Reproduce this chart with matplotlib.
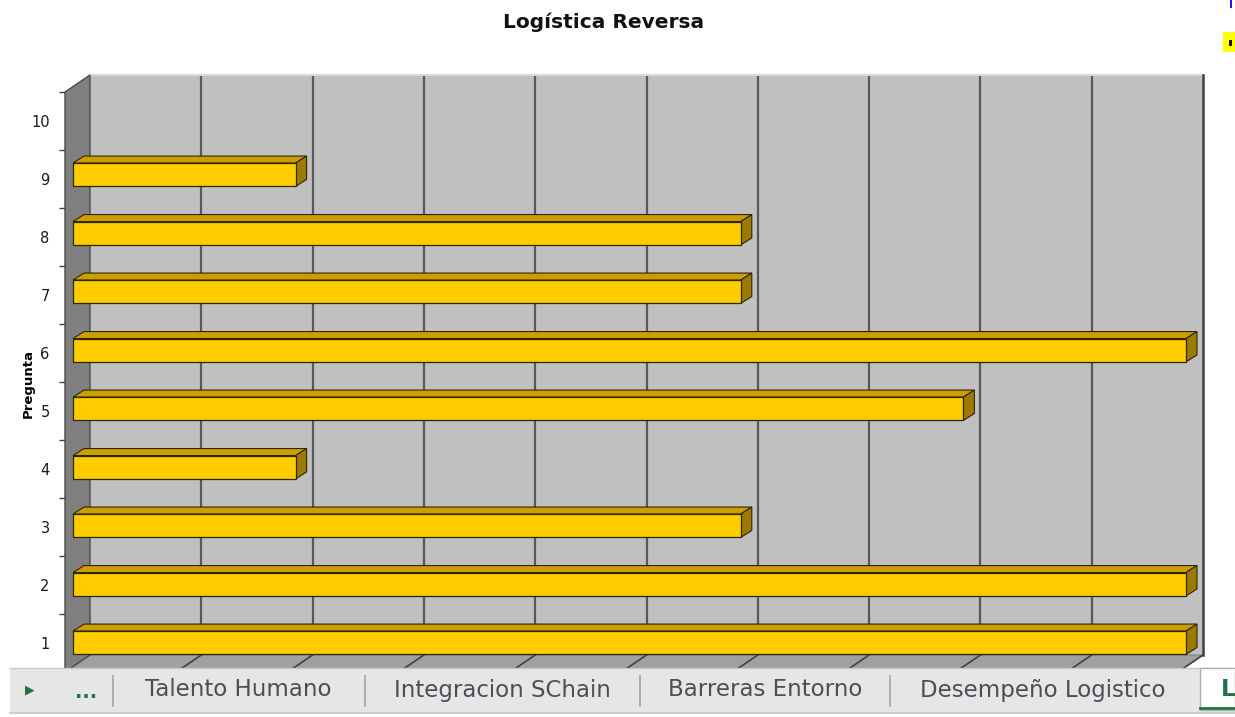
import numpy as np
import matplotlib.pyplot as plt
import matplotlib.transforms as mtransforms
from matplotlib.patches import Polygon, Rectangle

# datos
preguntas = [1, 2, 3, 4, 5, 6, 7, 8, 9, 10]
valores = [5, 5, 3, 1, 4, 5, 3, 3, 1, 0]
x_max = 5
x_grid = np.arange(0.5, x_max + 0.01, 0.5)
titulo = "Logística Reversa"
eje_y = "Pregunta"
hojas = ["Talento Humano", "Integracion SChain", "Barreras Entorno", "Desempeño Logistico"]
hojas_x = [238, 502, 765, 1043]
separadores_x = [113, 365, 640, 890]

W, H = 1235, 717
WALL = (25, 17)      # desplazamiento de la pared del fondo (px)
BAR_OFF = (8, 0)     # posicion de la cara frontal de las barras
BAR_DEPTH = (11, 7)  # profundidad de las barras

fig = plt.figure(figsize=(W / 100, H / 100), dpi=100)
ax = fig.add_axes([65 / W, 45 / H, 1113 / W, 580 / H])
# eje auxiliar para las barras (un poco mas alto por la perspectiva)
axb = fig.add_axes([65 / W, 45 / H, 1113 / W, 585 / H], zorder=1)
for a in (ax, axb):
    a.set_xlim(0, x_max)
    a.set_ylim(0.5, 10.5)
    a.set_facecolor('none')
    for s in a.spines.values():
        s.set_visible(False)
axb.axis('off')


def off(dx, dy, a=ax):
    return mtransforms.offset_copy(a.transData, fig=fig, x=dx, y=dy, units='dots')


def px(x, y, d=(0, 0), a=ax):
    X, Y = a.transData.transform((x, y))
    return (X + d[0], Y + d[1])


ident = mtransforms.IdentityTransform()


def poly(pts, a=ax, **kw):
    p = Polygon(pts, closed=True, transform=ident, clip_on=False, **kw)
    a.add_patch(p)
    return p


# pared del fondo
ax.add_patch(Rectangle((0, 0.5), x_max, 10, transform=off(*WALL), fc='#c0c0c0',
                       ec='none', clip_on=False, zorder=0))
ax.vlines(x_grid[:-1], 0.5, 10.5, transform=off(*WALL), color='#585858', lw=1.6,
          clip_on=False, zorder=1)
ax.plot([0, x_max], [10.5, 10.5], transform=off(*WALL), color='#d8d8d8', lw=1.5,
        clip_on=False, zorder=1)
ax.plot([x_max, x_max], [0.5, 10.5], transform=off(*WALL), color='#404040', lw=1.8,
        clip_on=False, zorder=1)

# piso
poly([px(0, 0.5), px(x_max, 0.5), px(x_max, 0.5, WALL), px(0, 0.5, WALL)],
     fc='#a0a0a0', ec='#808080', lw=0.8, zorder=1.5)
for xv in x_grid:
    p0, p1 = px(xv, 0.5), px(xv, 0.5, WALL)
    ax.plot([p0[0], p1[0]], [p0[1], p1[1]], transform=ident, color='#404040', lw=1.2,
            clip_on=False, zorder=1.6)

# pared lateral
poly([px(0, 0.5), px(0, 10.5), px(0, 10.5, WALL), px(0, 0.5, WALL)],
     fc='#808080', ec='#4a4a4a', lw=1.0, zorder=2)

# barras 3D
front_tr = off(*BAR_OFF, a=axb)
h = 0.4
d2 = (BAR_OFF[0] + BAR_DEPTH[0], BAR_OFF[1] + BAR_DEPTH[1])
for p, v in zip(preguntas, valores):
    if v <= 0:
        continue
    axb.barh(p, v, height=h, color='#ffcc00', edgecolor='#2e2600', lw=0.9,
             transform=front_tr, clip_on=False, zorder=4)
    poly([px(0, p + h / 2, BAR_OFF, axb), px(v, p + h / 2, BAR_OFF, axb),
          px(v, p + h / 2, d2, axb), px(0, p + h / 2, d2, axb)], a=axb,
         fc='#cc9e00', ec='#2e2600', lw=0.8, zorder=3.5)
    poly([px(v, p - h / 2, BAR_OFF, axb), px(v, p + h / 2, BAR_OFF, axb),
          px(v, p + h / 2, d2, axb), px(v, p - h / 2, d2, axb)], a=axb,
         fc='#9c7a00', ec='#2e2600', lw=0.8, zorder=3.5)
axb.set_xlim(0, x_max)
axb.set_ylim(0.5, 10.5)

# eje de categorias
ax.set_xticks([])
ax.set_yticks(preguntas)
ax.set_yticklabels([str(p) for p in preguntas], fontsize=10.5, family='DejaVu Sans',
                   color='#1a1a1a')
ax.tick_params(axis='y', which='major', length=0, pad=11)
ax.set_yticks(np.arange(0.5, 10.6, 1), minor=True)
ax.tick_params(axis='y', which='minor', length=4, width=1, color='#404040')
fig.text(28 / W, 1 - 384 / H, eje_y, rotation=90, ha='center', va='center',
         fontsize=9.5, fontweight='bold', family='DejaVu Sans')

fig.text(604 / W, 1 - 22 / H, titulo, ha='center', va='center', fontsize=14.5,
         fontweight='bold', family='DejaVu Sans', color='#111111')

# restos de la leyenda a la derecha
fig.add_artist(Rectangle((1223 / W, 1 - 52 / H), 12 / W, 20 / H, fc='#ffff00',
                         ec='none', transform=fig.transFigure))
fig.add_artist(Rectangle((1229 / W, 1 - 46 / H), 3 / W, 6 / H, fc='#111111',
                         ec='none', transform=fig.transFigure))
fig.add_artist(Rectangle((1230 / W, 1 - 8 / H), 2 / W, 8 / H, fc='#1a1aff',
                         ec='none', transform=fig.transFigure))

# barra de hojas de Excel
fig.add_artist(Rectangle((10 / W, 1 - 713 / H), (W - 10) / W, 45 / H, fc='#e6e6e6',
                         ec='none', transform=fig.transFigure, zorder=10))
fig.add_artist(plt.Line2D([10 / W, 1], [1 - 668 / H] * 2, color='#c8c8c8', lw=1,
                          transform=fig.transFigure, zorder=11))
fig.add_artist(plt.Line2D([10 / W, 1], [1 - 713 / H] * 2, color='#c6c6c6', lw=1.2,
                          transform=fig.transFigure, zorder=11))
for sx in separadores_x:
    fig.add_artist(plt.Line2D([sx / W] * 2, [1 - 706 / H, 1 - 676 / H], color='#a8a8a8',
                              lw=1.3, transform=fig.transFigure, zorder=11))
for name, tx in zip(hojas, hojas_x):
    fig.text(tx / W, 1 - 690 / H, name, ha='center', va='center', fontsize=16.5,
             family='DejaVu Sans', color='#4d4d58', zorder=12)
fig.text(30 / W, 1 - 690 / H, '▶', ha='center', va='center', fontsize=9,
         family='DejaVu Sans', color='#217346', zorder=12)
fig.text(86 / W, 1 - 692 / H, '...', ha='center', va='center', fontsize=14,
         fontweight='bold', family='DejaVu Sans', color='#217346', zorder=12)

# hoja activa
fig.add_artist(Rectangle((1200 / W, 1 - 710 / H), 35 / W, 42 / H, fc='white',
                         ec='#b0b0b0', lw=1, transform=fig.transFigure, zorder=11))
fig.add_artist(plt.Line2D([1200 / W, 1], [1 - 708 / H] * 2, color='#217346', lw=2,
                          transform=fig.transFigure, zorder=12))
fig.text(1221 / W, 1 - 690 / H, 'L', ha='left', va='center', fontsize=16.5,
         fontweight='bold', family='DejaVu Sans', color='#217346', zorder=12)

fig.savefig('out.png', dpi=100)
